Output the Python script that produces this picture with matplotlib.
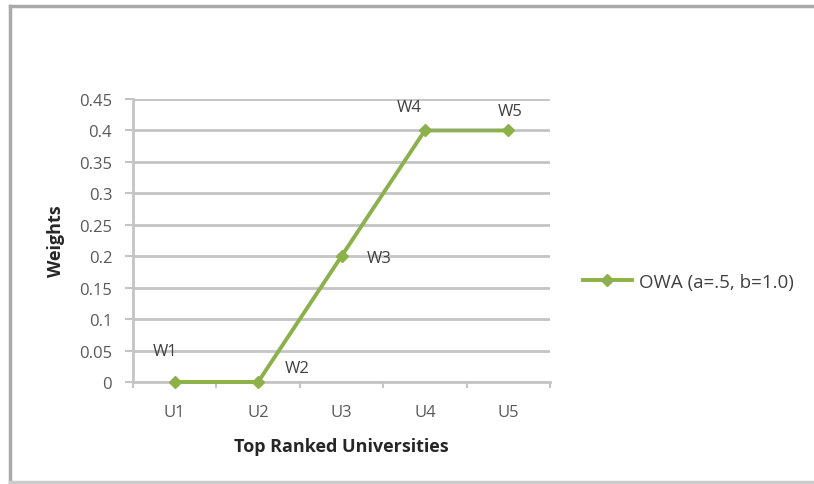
import matplotlib
matplotlib.use("Agg")
import matplotlib.pyplot as plt
from matplotlib.lines import Line2D

categories = ["U1", "U2", "U3", "U4", "U5"]
weights = [0.0, 0.0, 0.2, 0.4, 0.4]
point_labels = ["W1", "W2", "W3", "W4", "W5"]
yticks = [0, 0.05, 0.1, 0.15, 0.2, 0.25, 0.3, 0.35, 0.4, 0.45]
ytick_labels = ["0", "0.05", "0.1", "0.15", "0.2", "0.25", "0.3", "0.35", "0.4", "0.45"]
series_name = "OWA (a=.5, b=1.0)"

label_offsets = [(-7, 22), (28, 10), (27, -1), (-11, 17), (1, 14)]

plt.rcParams['font.family'] = ['Open Sans', 'DejaVu Sans']

W, H = 814, 485
fig = plt.figure(figsize=(W/100, H/100), dpi=100)
fig.patch.set_facecolor("white")

ax = fig.add_axes([133/W, 1-383/H, (550-133)/W, (383-100)/H])
green = "#8cb14a"
grid_c = "#c4c4c4"
txt_c = "#595959"

x = list(range(1, len(categories)+1))
ax.plot(x, weights, color=green, lw=2.8, marker="D", markersize=6,
        markerfacecolor=green, markeredgecolor=green, label=series_name,
        zorder=5, clip_on=False)

for xi, yi, lab, off in zip(x, weights, point_labels, label_offsets):
    ax.annotate(lab, (xi, yi), xytext=off, textcoords="offset points",
                ha="center", va="center", fontsize=12, color="#404040")

ax.set_xlim(0.5, len(categories)+0.5)
ax.set_ylim(0, 0.45)
ax.set_yticks(yticks)
ax.set_yticklabels(ytick_labels, fontsize=12, color=txt_c)
ax.set_xticks(x)
ax.set_xticklabels(categories, fontsize=12, color=txt_c)
ax.set_xticks([i + 0.5 for i in range(0, len(categories)+1)], minor=True)
ax.tick_params(axis="x", which="major", length=0, pad=16)
ax.tick_params(axis="x", which="minor", length=4, width=1.5, color=grid_c, direction="out")
ax.tick_params(axis="y", length=6, width=1.5, color=grid_c, pad=9)

ax.yaxis.grid(True, color=grid_c, lw=2)
ax.set_axisbelow(True)
for s in ["top", "right"]:
    ax.spines[s].set_visible(False)
ax.spines["left"].set_color(grid_c)
ax.spines["left"].set_linewidth(2)
ax.spines["bottom"].set_color(grid_c)
ax.spines["bottom"].set_linewidth(2)

ax.set_ylabel("Weights", fontsize=13, fontweight="bold", color="#262626", labelpad=10)
ax.set_xlabel("Top Ranked Universities", fontsize=13, fontweight="bold", color="#262626", labelpad=12)

fig.legend(loc="center left", bbox_to_anchor=(583/W, 1-283/H), frameon=False,
           borderaxespad=0, borderpad=0,
           handlelength=2.6, handletextpad=0.4, fontsize=13.5,
           labelcolor="#404040")

# outer chart border
fig.add_artist(Line2D([10/W, 1], [1-7/H, 1-7/H], color="#aaaaaa", lw=2.5, transform=fig.transFigure))
fig.add_artist(Line2D([10/W, 10/W], [1-7/H, 1-483/H], color="#aaaaaa", lw=2.5, transform=fig.transFigure))
fig.add_artist(Line2D([10/W, 1], [1-483/H, 1-483/H], color="#cccccc", lw=2.5, transform=fig.transFigure))

fig.savefig("out.png", dpi=100, facecolor="white")
